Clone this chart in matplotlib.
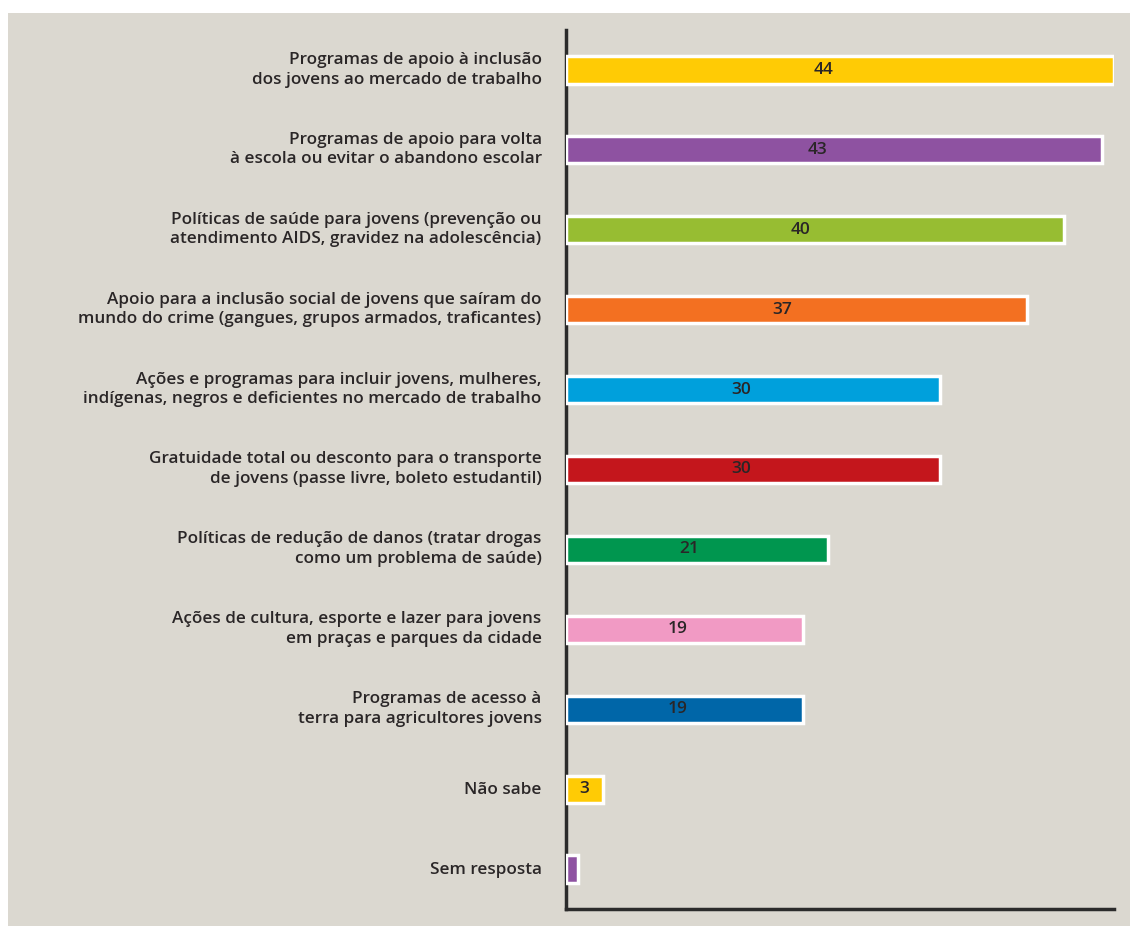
import matplotlib.pyplot as plt
from matplotlib.transforms import ScaledTranslation

# categorias (de cima para baixo)
categorias = [
    "Programas de apoio à inclusão\ndos jovens ao mercado de trabalho",
    "Programas de apoio para volta\nà escola ou evitar o abandono escolar",
    "Políticas de saúde para jovens (prevenção ou\natendimento AIDS, gravidez na adolescência)",
    "Apoio para a inclusão social de jovens que saíram do\nmundo do crime (gangues, grupos armados, traficantes)",
    "Ações e programas para incluir jovens, mulheres,\nindígenas, negros e deficientes no mercado de trabalho",
    "Gratuidade total ou desconto para o transporte\nde jovens (passe livre, boleto estudantil)",
    "Políticas de redução de danos (tratar drogas\ncomo um problema de saúde)",
    "Ações de cultura, esporte e lazer para jovens\nem praças e parques da cidade",
    "Programas de acesso à\nterra para agricultores jovens",
    "Não sabe",
    "Sem resposta",
]
valores = [44, 43, 40, 37, 30, 30, 21, 19, 19, 3, 1]
rotulos = ["44", "43", "40", "37", "30", "30", "21", "19", "19", "3", ""]
cores = ["#ffcb05", "#8e52a1", "#97bd32", "#f37021", "#00a0dc", "#c4161c",
         "#00964f", "#f19ac4", "#0066a8", "#ffcb05", "#8e52a1"]

fundo = "#dbd8d0"
texto = "#2a2627"

plt.rcParams['font.family'] = ['Open Sans', 'DejaVu Sans']

fig = plt.figure(figsize=(11.3, 9.26), dpi=100)
fig.patch.set_facecolor("white")

# painel bege por trás
bg = fig.add_axes([8 / 1130, 0, 1, 1 - 13 / 926], zorder=0)
bg.set_facecolor(fundo)
bg.set_xticks([])
bg.set_yticks([])
for s in bg.spines.values():
    s.set_visible(False)

ax = fig.add_axes([566 / 1130, 1 - 909 / 926, (1114 - 566) / 1130, (909 - 30) / 926], zorder=1)
ax.set_facecolor("none")

y = list(range(len(valores)))
ax.barh(y, valores, height=0.34, color=cores, edgecolor="white", linewidth=2.5, zorder=3)

for i, (v, r) in enumerate(zip(valores, rotulos)):
    if r:
        xpos = v * 0.47 if v > 5 else v / 2
        ax.text(xpos, i, r, ha="center", va="center", fontsize=12.5,
                fontweight="semibold", color=texto, zorder=4)

ax.set_xlim(0, 44)
ax.set_ylim(len(valores) - 0.5, -0.5)
ax.set_yticks(y)
ax.set_yticklabels(categorias, fontsize=12.3, fontweight="semibold", color=texto,
                   linespacing=1.3)
ax.tick_params(axis="y", length=0, pad=17.5)
ax.set_xticks([])

# sobe um pouco os rótulos de duas linhas
for lbl in ax.get_yticklabels():
    dy = 4 if "\n" in lbl.get_text() else 1
    lbl.set_transform(lbl.get_transform() + ScaledTranslation(0, dy / 100, fig.dpi_scale_trans))

for s in ["top", "right"]:
    ax.spines[s].set_visible(False)
for s in ["left", "bottom"]:
    ax.spines[s].set_color("#2b2b2b")
    ax.spines[s].set_linewidth(2.5)

fig.savefig("out.png", dpi=100, facecolor=fig.get_facecolor())
